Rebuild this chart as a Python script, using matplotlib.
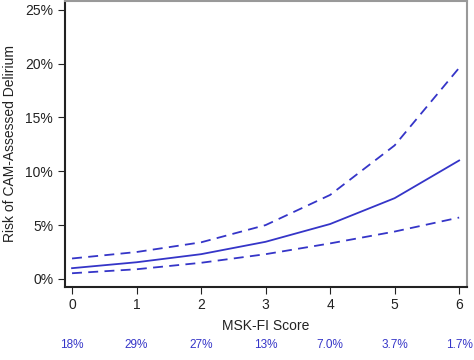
import matplotlib
matplotlib.use("Agg")
import matplotlib.pyplot as plt
import matplotlib.transforms as mtransforms

plt.rcParams["font.family"] = ["Liberation Sans", "DejaVu Sans"]

scores = [0, 1, 2, 3, 4, 5, 6]
risk = [1.0, 1.55, 2.3, 3.45, 5.1, 7.5, 11.0]
upper = [1.9, 2.5, 3.4, 5.0, 7.8, 12.4, 19.6]
lower = [0.53, 0.9, 1.5, 2.3, 3.3, 4.4, 5.7]
share_labels = ["18%", "29%", "27%", "13%", "7.0%", "3.7%", "1.7%"]
yticks = [0, 5, 10, 15, 20, 25]

blue = "#3535c8"

fig = plt.figure(figsize=(4.74, 3.6), dpi=100)
ax = fig.add_axes([0.137, 0.203, 0.848, 0.794])

ax.plot(scores, risk, color=blue, lw=1.3)
ax.plot(scores, upper, color=blue, lw=1.3, linestyle=(0, (5.5, 3.5)))
ax.plot(scores, lower, color=blue, lw=1.3, linestyle=(0, (5.5, 3.5)))

ax.set_xlim(-0.11, 6.12)
ax.set_ylim(-0.74, 25.8)
ax.set_xticks(scores)
ax.set_yticks(yticks)
ax.set_yticklabels([f"{v}%" for v in yticks])
ax.tick_params(axis="both", labelsize=10, colors="#222222", length=5, direction="out")
ax.tick_params(axis="x", pad=3)

ax.set_xlabel("MSK-FI Score", fontsize=10, color="#222222", labelpad=5)
ax.set_ylabel("Risk of CAM-Assessed Delirium", fontsize=10, color="#222222", labelpad=6)

for side in ["left", "bottom"]:
    ax.spines[side].set_color("#222222")
    ax.spines[side].set_linewidth(1.5)
for side in ["top", "right"]:
    ax.spines[side].set_color("#999999")
    ax.spines[side].set_linewidth(1.5)

trans = mtransforms.blended_transform_factory(ax.transData, fig.transFigure)
for x, lab in zip(scores, share_labels):
    ax.text(x, 1 - 345 / 360, lab, transform=trans, ha="center", va="center",
            fontsize=8.5, color=blue, clip_on=False)

fig.savefig("out.png", dpi=100)
